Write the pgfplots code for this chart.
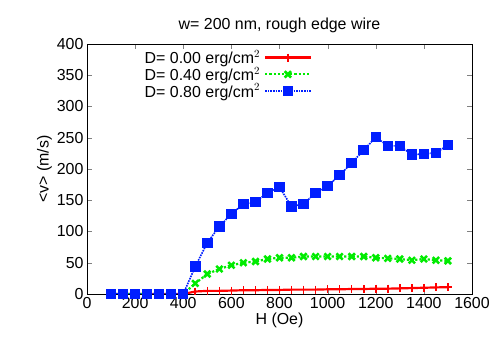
\documentclass[border=0pt]{standalone}
\usepackage{pgfplots}
\pgfplotsset{compat=1.18}
\usepackage{fontspec}
\setmainfont{Liberation Sans}
\definecolor{gred}{RGB}{255,0,0}
\definecolor{ggreen}{RGB}{0,235,0}
\definecolor{gblue}{RGB}{0,30,255}
\newcommand{\gf}{\fontsize{16}{17}\selectfont}
\begin{document}
\begin{tikzpicture}
\useasboundingbox (-87bp,-47bp) rectangle (406bp,294bp);
\begin{axis}[
  scale only axis,
  width=385bp, height=250bp,
  xmin=0, xmax=1600, ymin=0, ymax=400,
  xtick={0,200,...,1600}, ytick={0,50,...,400},
  tick align=inside,
  major tick length=5bp,
  tick label style={font=\gf},
  label style={font=\gf},
  title style={font=\gf, yshift=2bp},
  /pgf/number format/assume math mode=true,
  /pgf/number format/set thousands separator={},
  title={w= 200 nm, rough edge wire},
  xlabel={H (Oe)},
  ylabel={<v> (m/s)},
  xlabel style={yshift=3bp},
  ylabel style={yshift=-2bp},
  legend style={draw=none, fill=none, at={(0.584,0.98)}, anchor=north east,
    font=\gf, row sep=0bp, inner sep=0bp, nodes={inner xsep=4bp, inner ysep=1bp}},
  legend cell align=right,
  legend plot pos=right,
  legend image code/.code={\draw[mark repeat=2,mark phase=2] plot coordinates {(0cm,0cm) (0.8cm,0cm) (1.6cm,0cm)};},
]
\addplot[gred, line width=2.2pt, mark=+, mark size=4pt, mark options={solid, line width=1.6pt}] coordinates {
(100,0)(150,0)(200,0)(250,0)(300,0)(350,0)(400,0)
(450,4)(500,5)(550,5)(600,5.5)(650,6)(700,6)(750,6.5)(800,6.5)(850,7)(900,7)
(950,7)(1000,7.5)(1050,7.5)(1100,8)(1150,8)(1200,8.5)(1250,8.5)(1300,9)(1350,9.5)
(1400,10)(1450,10.5)(1500,11)};
\addlegendentry{D= 0.00 erg/cm$^2$}
\addplot[ggreen, line width=2.2pt, dotted, mark=x, mark size=4.5pt, mark options={solid, line width=2.6pt}] coordinates {
(100,0)(150,0)(200,0)(250,0)(300,0)(350,0)(400,0)
(450,17)(500,32)(550,40)(600,46)(650,50)(700,52)(750,56)(800,58)(850,58)(900,60)
(950,60)(1000,60)(1050,60)(1100,60)(1150,60)(1200,58)(1250,57)(1300,56)(1350,54)
(1400,56)(1450,54)(1500,53)};
\addlegendentry{D= 0.40 erg/cm$^2$}
\addplot[gblue, line width=1.6pt, densely dotted, mark=square*, mark size=4.5pt, mark options={solid, line width=1.5pt}] coordinates {
(100,0)(150,0)(200,0)(250,0)(300,0)(350,0)(400,0)
(450,44)(500,82)(550,108)(600,128)(650,144)(700,147)(750,162)(800,171)(850,140)(900,144)
(950,162)(1000,173)(1050,190)(1100,210)(1150,230)(1200,251)(1250,237)(1300,237)(1350,223)
(1400,224)(1450,226)(1500,238)};
\addlegendentry{D= 0.80 erg/cm$^2$}
\end{axis}
\end{tikzpicture}
\end{document}
